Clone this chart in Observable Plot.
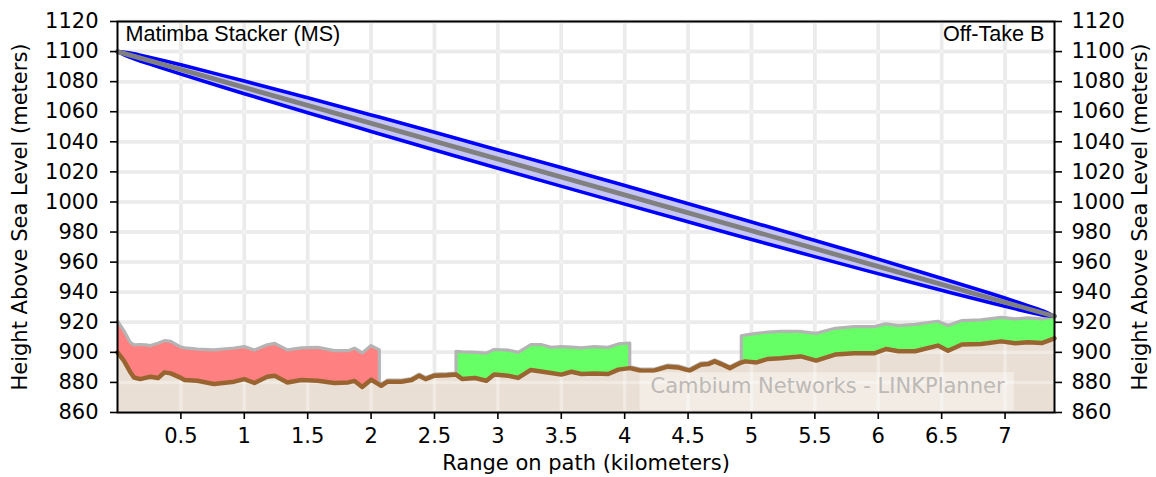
<!DOCTYPE html>
<html><head><meta charset="utf-8">
<script src="https://cdn.jsdelivr.net/npm/d3@7"></script>
<script src="https://cdn.jsdelivr.net/npm/@observablehq/plot@0.6"></script>
<style>html,body{margin:0;padding:0;background:#fff;} #chart svg{display:block}</style>
</head><body><div id="chart"></div>
<script>
// ---------------- data ----------------
const xTicks = [0.5, 1, 1.5, 2, 2.5, 3, 3.5, 4, 4.5, 5, 5.5, 6, 6.5, 7];
const yTicks = [860, 880, 900, 920, 940, 960, 980, 1000, 1020, 1040, 1060, 1080, 1100, 1120];
const pathLength = 7.39;
const siteNames = ["Matimba Stacker (MS)", "Off-Take B"];
const xLabel = "Range on path (kilometers)";
const yLabel = "Height Above Sea Level (meters)";
const watermark = "Cambium Networks - LINKPlanner";

// terrain profile samples (km, m) and clutter top (m); samples grouped in segments
const dist = [
  0, 0.05, 0.10, 0.13, 0.18, 0.22, 0.26, 0.32, 0.37, 0.42, 0.50, 0.53, 0.63, 0.76, 0.92, 1.00, 1.08, 1.18, 1.24, 1.34, 1.45, 1.58, 1.71, 1.82, 1.87, 1.93, 2.00, 2.065,
  2.065, 2.08, 2.13, 2.24, 2.32, 2.38, 2.43, 2.50, 2.60, 2.67,
  2.67, 2.72, 2.82, 2.91, 2.97, 3.08, 3.16, 3.26, 3.34, 3.42, 3.50, 3.58, 3.66, 3.76, 3.87, 3.95, 4.04,
  4.04, 4.13, 4.23, 4.34, 4.42, 4.51, 4.60, 4.66, 4.71, 4.76, 4.83, 4.87, 4.92,
  4.92, 4.95, 5.04, 5.13, 5.23, 5.36, 5.39, 5.51, 5.66, 5.81, 5.97, 6.06, 6.16, 6.29, 6.47, 6.55, 6.66, 6.81, 6.97, 7.08, 7.18, 7.29, 7.39
];
const terrain = [
  900, 894.5, 887, 883.3, 882.2, 883, 883.8, 882.9, 886.7, 886, 883, 881.6, 881.1, 878.9, 880.5, 882.2, 879.6, 883.8, 884.5, 880, 881.6, 881.1, 879.6, 880, 881, 877, 881.8, 878.5,
  878.5, 877.8, 880.5, 880.5, 881.6, 884.5, 882.2, 884.5, 884.8, 885.2,
  885.2, 882.2, 882.9, 881.1, 885.2, 884.5, 883, 888.3, 887.3, 886.3, 885.2, 887.1, 885.6, 886, 885.6, 888.5, 889.5,
  889.5, 887.8, 887.8, 890.5, 890, 887.8, 891.8, 892.2, 894, 892.2, 889.5, 891.2, 893.2,
  893.2, 894, 893.3, 895.6, 896, 897, 897.3, 894.5, 898.5, 899.4, 899.4, 902.2, 900.7, 900.7, 904.5, 901.1, 905.2, 905.6, 907.3, 906, 906.7, 906.2, 909.3
];
const clutterTop = [
  920.7, 914.5, 906.7, 905, 905.2, 905, 904.5, 906, 907.8, 907.3, 903.5, 903, 902.2, 901.6, 902.9, 903.8, 901.6, 905, 906, 901.6, 903, 903.3, 901.1, 901.1, 902.8, 899.6, 904.5, 901.6,
  879.5, 878.8, 881.5, 881.5, 882.6, 885.5, 883.2, 885.5, 885.8, 886.2,
  900.7, 900.3, 900, 899.5, 901.9, 901.5, 900, 905.2, 905.2, 903.3, 903.8, 903.5, 903, 903.8, 903.3, 905.6, 906.2,
  890.5, 888.8, 888.8, 891.5, 891, 888.8, 892.8, 893.2, 895, 893.2, 890.5, 892.2, 894.2,
  911, 911.5, 912.6, 913.5, 914, 914, 913.8, 912.6, 916, 917.1, 917.1, 918.9, 917.8, 918.6, 920.7, 917.8, 921.1, 921.6, 923.3, 922.2, 922.9, 922.2, 923.8
];
const segmentCounts = [28, 10, 17, 13, 23];
const segmentClass = ["obstruction", "none", "clutter", "none", "clutter"];

// link line of sight and first Fresnel zone envelope (km, m)
const linkDist = [0, 7.39];
const linkHeight = [1100, 924];
const fresnelDist = [0, 0.1, 0.25, 0.5, 1, 1.5, 2, 2.5, 3, 3.7, 4.4, 4.9, 5.4, 5.9, 6.4, 6.9, 7.15, 7.3, 7.39];
const fresnelTop = [1100, 1099.0, 1096.2, 1091.2, 1080.4, 1069.3, 1057.9, 1046.4, 1034.6, 1018.1, 1001.3, 989.2, 976.9, 964.5, 951.8, 938.8, 931.9, 927.5, 924];
const fresnelBottom = [1100, 1096.2, 1091.8, 1085.0, 1072.0, 1059.3, 1046.9, 1034.6, 1022.4, 1005.7, 989.1, 977.4, 965.9, 954.5, 943.4, 932.6, 927.5, 924.7, 924];

// ---------------- build tables ----------------
const segOf = [];
segmentCounts.forEach((n, s) => { for (let i = 0; i < n; i++) segOf.push(s); });
const rows = dist.map((d, i) => ({d, terrain: terrain[i], top: clutterTop[i], seg: segOf[i], cls: segmentClass[segOf[i]]}));
const fresnel = fresnelDist.map((d, i) => ({d, top: fresnelTop[i], bottom: fresnelBottom[i]}));
const link = linkDist.map((d, i) => ({d, h: linkHeight[i]}));

const W = 1156, H = 477;
const fmt = d => String(d);
const gridStyle = {strokeOpacity: 1, strokeWidth: 3.5};
const titleFont = "'Liberation Sans', Arial, sans-serif";

const chart = Plot.plot({
  width: W, height: H,
  marginLeft: 117, marginRight: 102, marginTop: 21, marginBottom: 65,
  style: {fontFamily: "'DejaVu Sans', sans-serif", fontSize: "21px", color: "#000", background: "#fff", overflow: "visible"},
  x: {domain: [0, pathLength], axis: null},
  y: {domain: [yTicks[0], yTicks[yTicks.length - 1]], axis: null},
  color: {type: "ordinal", domain: ["obstruction", "clutter"], range: ["#ff8080", "#66ff66"]},
  marks: [
    Plot.gridX(xTicks, {...gridStyle, stroke: "#e0e0e0"}),
    Plot.gridY(yTicks, {...gridStyle, stroke: "#e0e0e0"}),
    Plot.areaY(rows, {x: "d", y1: yTicks[0], y2: "terrain", fill: "#e9dfd4"}),
    Plot.gridX(xTicks, {...gridStyle, stroke: "#fff", strokeOpacity: 0.35}),
    Plot.gridY(yTicks, {...gridStyle, stroke: "#fff", strokeOpacity: 0.35}),
    Plot.areaY(rows.filter(r => r.cls !== "none"), {x: "d", y1: "terrain", y2: "top", fill: "cls", z: "seg"}),
    Plot.line(rows, {x: "d", y: "top", stroke: "#b4b4b4", strokeWidth: 3.2}),
    Plot.line(rows, {x: "d", y: "terrain", stroke: "#9a6430", strokeWidth: 4.5}),
    Plot.areaY(fresnel, {x: "d", y1: "bottom", y2: "top", fill: "#c6c6f6", curve: "catmull-rom"}),
    Plot.line(fresnel, {x: "d", y: "top", stroke: "#0000ff", strokeWidth: 3.6, curve: "catmull-rom"}),
    Plot.line(fresnel, {x: "d", y: "bottom", stroke: "#0000ff", strokeWidth: 3.6, curve: "catmull-rom"}),
    Plot.line(link, {x: "d", y: "h", stroke: "#808080", strokeWidth: 4.8}),
    Plot.frame({stroke: "#000", strokeWidth: 2}),
    Plot.axisX(xTicks, {anchor: "bottom", tickSize: 7, tickPadding: 9, tickFormat: fmt, label: null, strokeWidth: 1.6}),
    Plot.axisY(yTicks, {anchor: "left", tickSize: 7, tickPadding: 12, tickFormat: fmt, label: null, strokeWidth: 1.6}),
    Plot.axisY(yTicks, {anchor: "right", tickSize: 7, tickPadding: 10, tickFormat: fmt, label: null, strokeWidth: 1.6}),
    Plot.text([siteNames[0]], {frameAnchor: "top-left", dx: 8, dy: 4, lineAnchor: "top", textAnchor: "start", fontFamily: titleFont, fontSize: 21.6, fill: "#000"}),
    Plot.text([siteNames[1]], {frameAnchor: "top-right", dx: -10, dy: 4, lineAnchor: "top", textAnchor: "end", fontFamily: titleFont, fontSize: 21.6, fill: "#000"}),
    Plot.text([xLabel], {frameAnchor: "bottom", dy: 51, lineAnchor: "middle", textAnchor: "middle", fill: "#000"}),
    Plot.text([yLabel], {frameAnchor: "left", rotate: -90, dx: -97, textAnchor: "middle", lineAnchor: "middle", fill: "#000"}),
    Plot.text([yLabel], {frameAnchor: "right", rotate: -90, dx: 86, textAnchor: "middle", lineAnchor: "middle", fill: "#000"}),
    Plot.text([watermark], {frameAnchor: "bottom-right", dx: -227, dy: -26, textAnchor: "middle", lineAnchor: "middle", fill: "#bdb9b5"})
  ]
});

document.getElementById("chart").appendChild(chart);

// translucent box behind the watermark
const wm = Array.from(chart.querySelectorAll("text")).find(t => t.textContent === watermark);
if (wm) {
  const sr = chart.getBoundingClientRect();
  const br = wm.getBoundingClientRect();
  const x0 = br.left - sr.left, x1 = br.right - sr.left;
  const y0 = br.top - sr.top, y1 = br.bottom - sr.top;
  const rect = document.createElementNS("http://www.w3.org/2000/svg", "rect");
  rect.setAttribute("x", x0 - 11);
  rect.setAttribute("y", y0 - 2);
  rect.setAttribute("width", x1 - x0 + 20);
  rect.setAttribute("height", y1 - y0 + 14);
  rect.setAttribute("fill", "#ffffff");
  rect.setAttribute("fill-opacity", 0.4);
  let g = wm;
  while (g.parentNode && g.parentNode !== chart) g = g.parentNode;
  chart.insertBefore(rect, g);
}
</script></body></html>
